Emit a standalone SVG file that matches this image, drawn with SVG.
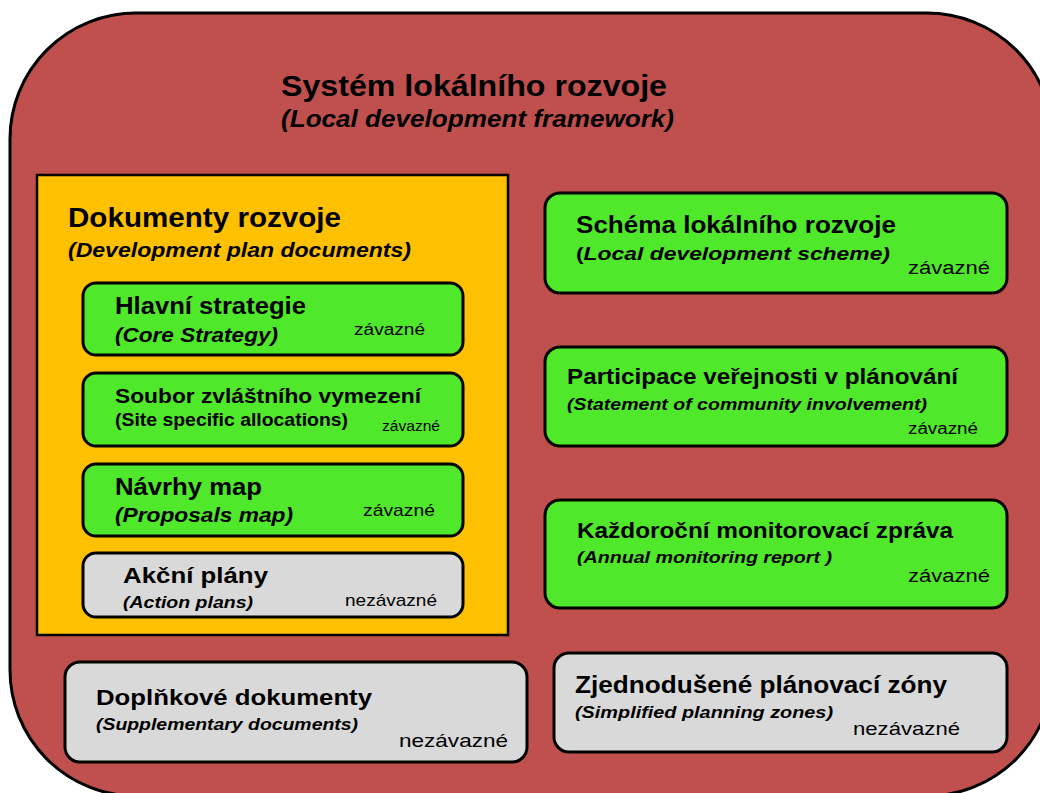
<svg xmlns="http://www.w3.org/2000/svg" width="1040" height="793" viewBox="0 0 1040 793">
<style>
text{font-family:"Liberation Sans",Arial,sans-serif;fill:#000}
.b{font-weight:bold}
.i{font-style:italic}
.g{fill:#4FE82A;stroke:#000;stroke-width:3}
.n{fill:#D9D9D9;stroke:#000;stroke-width:3}
</style>
<rect width="1040" height="793" fill="#fff"/>
<g id="outer">
<rect x="10" y="13" width="1043" height="783" rx="126" ry="126" fill="#C0504D" stroke="#000" stroke-width="3"/>
<text class="b" x="281" y="96" font-size="30" textLength="386" lengthAdjust="spacingAndGlyphs">Systém lokálního rozvoje</text>
<text class="b i" x="281" y="127" font-size="23" textLength="393" lengthAdjust="spacingAndGlyphs">(Local development framework)</text>
</g>
<g id="dpd">
<rect x="37" y="175" width="471" height="460" fill="#FFC000" stroke="#000" stroke-width="2.5"/>
<text class="b" x="68" y="227" font-size="27" textLength="273" lengthAdjust="spacingAndGlyphs">Dokumenty rozvoje</text>
<text class="b i" x="68" y="257" font-size="20" textLength="343" lengthAdjust="spacingAndGlyphs">(Development plan documents)</text>
</g>
<g id="core">
<rect class="g" x="83" y="283" width="380" height="72" rx="13"/>
<text class="b" x="115" y="314" font-size="23" textLength="191" lengthAdjust="spacingAndGlyphs">Hlavní strategie</text>
<text class="b i" x="115" y="342" font-size="21" textLength="163" lengthAdjust="spacingAndGlyphs">(Core Strategy)</text>
<text x="354" y="335" font-size="16" textLength="71" lengthAdjust="spacingAndGlyphs">závazné</text>
</g>
<g id="site">
<rect class="g" x="83" y="373" width="380" height="73" rx="13"/>
<text class="b" x="115" y="403" font-size="20" textLength="306" lengthAdjust="spacingAndGlyphs">Soubor zvláštního vymezení</text>
<text class="b" x="115" y="426" font-size="18" textLength="233" lengthAdjust="spacingAndGlyphs">(Site specific allocations)</text>
<text x="382" y="431" font-size="14" textLength="58" lengthAdjust="spacingAndGlyphs">závazné</text>
</g>
<g id="proposals">
<rect class="g" x="83" y="464" width="380" height="72" rx="13"/>
<text class="b" x="115" y="495" font-size="23" textLength="147" lengthAdjust="spacingAndGlyphs">Návrhy map</text>
<text class="b i" x="115" y="522" font-size="21" textLength="178" lengthAdjust="spacingAndGlyphs">(Proposals map)</text>
<text x="363" y="516" font-size="17" textLength="72" lengthAdjust="spacingAndGlyphs">závazné</text>
</g>
<g id="action">
<rect class="n" x="83" y="553" width="380" height="64" rx="13"/>
<text class="b" x="123" y="583" font-size="22" textLength="145" lengthAdjust="spacingAndGlyphs">Akční plány</text>
<text class="b i" x="123" y="608" font-size="17" textLength="130" lengthAdjust="spacingAndGlyphs">(Action plans)</text>
<text x="345" y="606" font-size="17" textLength="92" lengthAdjust="spacingAndGlyphs">nezávazné</text>
</g>
<g id="lds">
<rect class="g" x="545" y="193" width="462" height="100" rx="15"/>
<text class="b" x="576" y="233" font-size="23" textLength="320" lengthAdjust="spacingAndGlyphs">Schéma lokálního rozvoje</text>
<text class="b" x="576" y="260" font-size="19" textLength="314" lengthAdjust="spacingAndGlyphs">(<tspan class="i">Local development scheme)</tspan></text>
<text x="908" y="274" font-size="18" textLength="82" lengthAdjust="spacingAndGlyphs">závazné</text>
</g>
<g id="sci">
<rect class="g" x="545" y="347" width="462" height="99" rx="15"/>
<text class="b" x="567" y="384" font-size="22" textLength="391" lengthAdjust="spacingAndGlyphs">Participace veřejnosti v plánování</text>
<text class="b i" x="567" y="410" font-size="17" textLength="360" lengthAdjust="spacingAndGlyphs">(Statement of community involvement)</text>
<text x="908" y="434" font-size="16" textLength="70" lengthAdjust="spacingAndGlyphs">závazné</text>
</g>
<g id="amr">
<rect class="g" x="545" y="500" width="462" height="108" rx="15"/>
<text class="b" x="577" y="538" font-size="22" textLength="376" lengthAdjust="spacingAndGlyphs">Každoroční monitorovací zpráva</text>
<text class="b i" x="577" y="563" font-size="17" textLength="255" lengthAdjust="spacingAndGlyphs">(Annual monitoring report )</text>
<text x="908" y="582" font-size="18" textLength="82" lengthAdjust="spacingAndGlyphs">závazné</text>
</g>
<g id="spz">
<rect class="n" x="554" y="653" width="453" height="99" rx="15"/>
<text class="b" x="575" y="693" font-size="23" textLength="372" lengthAdjust="spacingAndGlyphs">Zjednodušené plánovací zóny</text>
<text class="b i" x="575" y="718" font-size="17" textLength="258" lengthAdjust="spacingAndGlyphs">(Simplified planning zones)</text>
<text x="853" y="735" font-size="19" textLength="107" lengthAdjust="spacingAndGlyphs">nezávazné</text>
</g>
<g id="spd">
<rect class="n" x="65" y="662" width="462" height="100" rx="15"/>
<text class="b" x="96" y="705" font-size="22" textLength="276" lengthAdjust="spacingAndGlyphs">Doplňkové dokumenty</text>
<text class="b i" x="96" y="730" font-size="17" textLength="262" lengthAdjust="spacingAndGlyphs">(Supplementary documents)</text>
<text x="399" y="747" font-size="19" textLength="109" lengthAdjust="spacingAndGlyphs">nezávazné</text>
</g>
<g id="connectors"/>
</svg>
